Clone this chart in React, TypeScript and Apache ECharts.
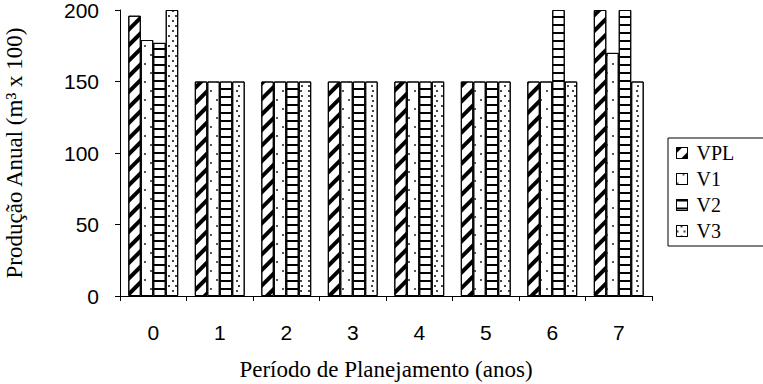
import React, { useEffect, useRef } from "react";
import * as echarts from "echarts";

const categories = ["0", "1", "2", "3", "4", "5", "6", "7"];
const seriesNames = ["VPL", "V1", "V2", "V3"];
const vplValues = [196, 150, 150, 150, 150, 150, 150, 200];
const v1Values = [179, 150, 150, 150, 150, 150, 150, 170];
const v2Values = [177, 150, 150, 150, 150, 150, 200, 200];
const v3Values = [200, 150, 150, 150, 150, 150, 150, 150];
const yMin = 0;
const yMax = 200;
const yInterval = 50;

const decals: any[] = [
  {
    symbol: "rect",
    symbolSize: 1,
    dashArrayX: [1, 0],
    dashArrayY: [4, 7],
    rotation: -Math.PI / 4,
    color: "#000",
  },
  {
    symbol: "rect",
    symbolSize: 1,
    dashArrayX: [
      [1.5, 9.5],
      [0, 5.5, 1.5, 4],
    ],
    dashArrayY: [1.5, 6.5],
    color: "#555",
  },
  {
    symbol: "rect",
    symbolSize: 1,
    dashArrayX: [1, 0],
    dashArrayY: [1.5, 6],
    color: "#000",
  },
  {
    symbol: "rect",
    symbolSize: 1,
    dashArrayX: [
      [2, 5],
      [0, 3.5, 2, 1.5],
    ],
    dashArrayY: [2, 2.5],
    color: "#444",
  },
];

export default function App() {
  const ref = useRef<HTMLDivElement>(null);
  useEffect(() => {
    if (!ref.current) return;
    const chart = echarts.init(ref.current, null, { renderer: "svg" });
    const allValues = [vplValues, v1Values, v2Values, v3Values];
    chart.setOption({
      animation: false,
      backgroundColor: "#fff",
      grid: {
        left: 120,
        right: 111,
        top: 10,
        bottom: 88,
        containLabel: false,
        outerBoundsMode: "none",
      },
      legend: {
        orient: "vertical",
        left: 668,
        top: 138,
        padding: [5, 33, 5, 8],
        itemGap: 6,
        itemWidth: 11,
        itemHeight: 11,
        icon: "rect",
        borderColor: "#000",
        borderWidth: 1,
        itemStyle: { borderColor: "#000", borderWidth: 1 },
        textStyle: {
          fontFamily: "Liberation Serif",
          fontSize: 20,
          color: "#000",
          padding: [0, 0, 0, 4],
        },
        data: seriesNames,
      },
      xAxis: {
        type: "category",
        data: categories,
        name: "Período de Planejamento (anos)",
        nameLocation: "middle",
        nameGap: 62,
        nameTextStyle: { fontFamily: "Liberation Serif", fontSize: 23, color: "#000" },
        axisLine: { show: true, lineStyle: { color: "#000", width: 1 } },
        axisTick: { show: true, length: 5, lineStyle: { color: "#000" } },
        axisLabel: {
          color: "#000",
          fontFamily: "Liberation Sans",
          fontSize: 21,
          margin: 26,
        },
      },
      yAxis: {
        type: "value",
        min: yMin,
        max: yMax,
        interval: yInterval,
        name: "Produção Anual (m³ x 100)",
        nameLocation: "middle",
        nameGap: 94,
        nameTextStyle: { fontFamily: "Liberation Serif", fontSize: 23, color: "#000" },
        axisLine: { show: true, lineStyle: { color: "#000", width: 1 } },
        axisTick: { show: true, length: 5, lineStyle: { color: "#000" } },
        splitLine: { show: false },
        axisLabel: {
          color: "#000",
          fontFamily: "Liberation Sans",
          fontSize: 21,
          margin: 21,
        },
      },
      series: seriesNames.map((name, i) => ({
        name,
        type: "bar",
        data: allValues[i],
        barGap: "0%",
        barCategoryGap: "25%",
        itemStyle: {
          color: "#fff",
          borderColor: "#000",
          borderWidth: 1,
          decal: decals[i],
        },
      })),
    });
    return () => chart.dispose();
  }, []);
  return (
    <div
      ref={ref}
      style={{ position: "fixed", left: 0, top: 0, width: 763, height: 384 }}
    />
  );
}
